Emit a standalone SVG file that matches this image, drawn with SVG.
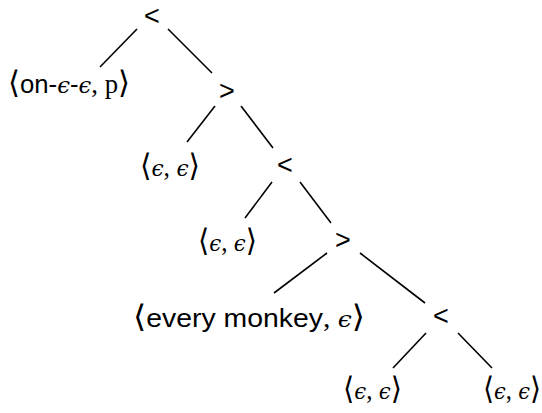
<svg xmlns="http://www.w3.org/2000/svg" width="542" height="413" viewBox="0 0 542 413">
<style>
.op{font-family:"Liberation Sans","DejaVu Sans",sans-serif;font-size:27px;text-anchor:middle;fill:#000}
.lf{font-family:"Liberation Sans","DejaVu Sans",sans-serif;font-size:26px;text-anchor:middle;fill:#000}
.m{font-family:"DejaVu Serif","Liberation Serif",serif;font-style:italic;font-size:23px}
.b{font-family:"DejaVu Serif","Liberation Serif",serif;font-size:31px}
.r{font-family:"Liberation Serif","DejaVu Serif",serif;font-size:27px}
.e{stroke:#000;stroke-width:1.6;fill:none}
</style>
<rect width="542" height="413" fill="#fff"/>
<g id="connectors">
<line class="e" x1="137" y1="29" x2="100" y2="67"/>
<line class="e" x1="168" y1="29" x2="212" y2="73"/>
<line class="e" x1="215" y1="106" x2="187" y2="142"/>
<line class="e" x1="241" y1="106" x2="273" y2="148"/>
<line class="e" x1="272" y1="182" x2="245" y2="218"/>
<line class="e" x1="300" y1="182" x2="331" y2="223"/>
<line class="e" x1="327" y1="253" x2="274" y2="293"/>
<line class="e" x1="360" y1="253" x2="425" y2="303"/>
<line class="e" x1="426" y1="333" x2="393" y2="368"/>
<line class="e" x1="458" y1="333" x2="492" y2="368"/>
</g>
<g id="n1"><text class="op" x="152" y="25">&lt;</text></g>
<g id="n2"><text class="lf" x="69" y="93" textLength="122" lengthAdjust="spacingAndGlyphs"><tspan class="b">⟨</tspan>on-<tspan class="m">ϵ</tspan>-<tspan class="m">ϵ</tspan><tspan class="r">, p</tspan><tspan class="b">⟩</tspan></text></g>
<g id="n3"><text class="op" x="227" y="100">&gt;</text></g>
<g id="n4"><text class="lf" x="170" y="176" textLength="60" lengthAdjust="spacingAndGlyphs"><tspan class="b">⟨</tspan><tspan class="m">ϵ</tspan><tspan class="r">, </tspan><tspan class="m">ϵ</tspan><tspan class="b">⟩</tspan></text></g>
<g id="n5"><text class="op" x="285" y="174">&lt;</text></g>
<g id="n6"><text class="lf" x="227.5" y="251" textLength="59" lengthAdjust="spacingAndGlyphs"><tspan class="b">⟨</tspan><tspan class="m">ϵ</tspan><tspan class="r">, </tspan><tspan class="m">ϵ</tspan><tspan class="b">⟩</tspan></text></g>
<g id="n7"><text class="op" x="343" y="249">&gt;</text></g>
<g id="n8"><text class="lf" x="249" y="327" textLength="232" lengthAdjust="spacingAndGlyphs"><tspan class="b">⟨</tspan>every monkey<tspan class="r">, </tspan><tspan class="m">ϵ</tspan><tspan class="b">⟩</tspan></text></g>
<g id="n9"><text class="op" x="441" y="325">&lt;</text></g>
<g id="n10"><text class="lf" x="372.5" y="399" textLength="59" lengthAdjust="spacingAndGlyphs"><tspan class="b">⟨</tspan><tspan class="m">ϵ</tspan><tspan class="r">, </tspan><tspan class="m">ϵ</tspan><tspan class="b">⟩</tspan></text></g>
<g id="n11"><text class="lf" x="512" y="399" textLength="58" lengthAdjust="spacingAndGlyphs"><tspan class="b">⟨</tspan><tspan class="m">ϵ</tspan><tspan class="r">, </tspan><tspan class="m">ϵ</tspan><tspan class="b">⟩</tspan></text></g>
</svg>
